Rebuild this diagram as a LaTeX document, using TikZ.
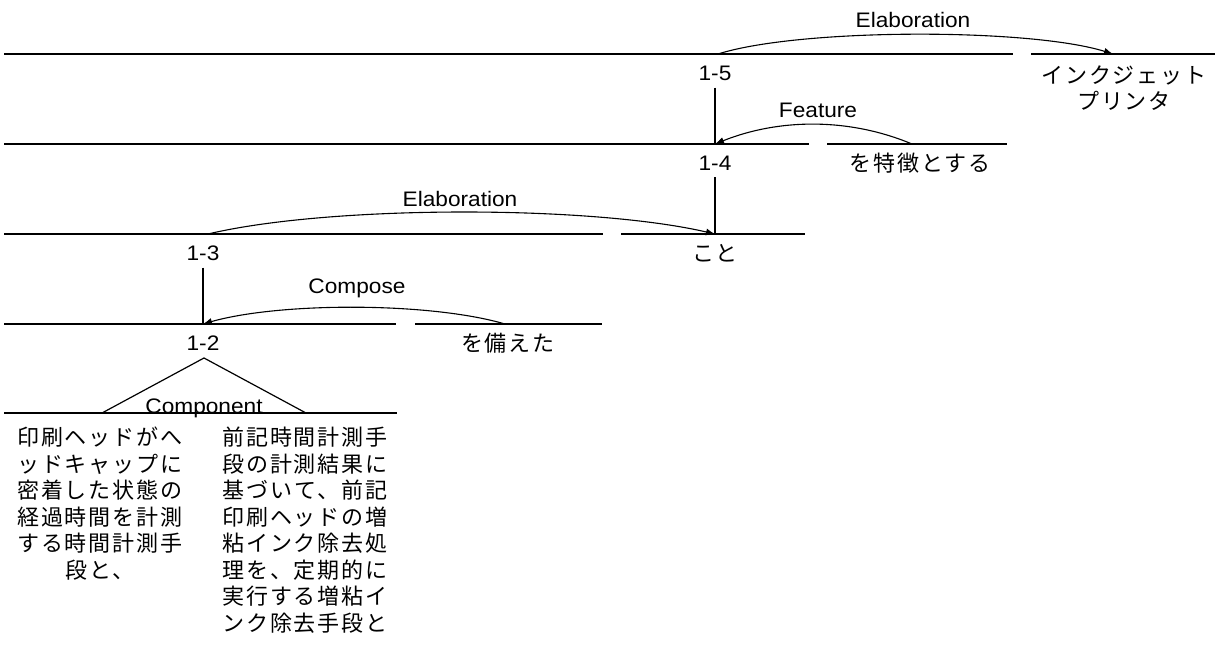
\documentclass[tikz,border=0pt]{standalone}
\usepackage{fontspec}
\setmainfont{Liberation Sans}[FakeStretch=1.08]
\newfontfamily\jp{Noto Sans CJK JP}[LetterSpace=9]
\usetikzlibrary{arrows.meta,calc}
\begin{document}
\begin{tikzpicture}[x=1pt,y=-1pt,
  lbl/.style={font=\fontsize{21}{23}\selectfont, inner sep=0pt},
  jtxt/.style={font=\jp\fontsize{22}{26.5}\selectfont, inner sep=0pt, align=center},
  hline/.style={line width=1.6pt},
  vline/.style={line width=1.2pt},
  rel/.style={line width=1.1pt, -{Latex[length=9pt,width=7pt]}}]
\useasboundingbox (0,0) rectangle (1215,655);

% horizontal lines
\coordinate (L1a) at (4,54);   \coordinate (L1b) at (1013,54);
\coordinate (L1c) at (1031,54); \coordinate (L1d) at (1215,54);
\coordinate (L2a) at (4,144);  \coordinate (L2b) at (809,144);
\coordinate (L2c) at (827,144); \coordinate (L2d) at (1007,144);
\coordinate (L3a) at (4,234);  \coordinate (L3b) at (603,234);
\coordinate (L3c) at (621,234); \coordinate (L3d) at (805,234);
\coordinate (L4a) at (4,324);  \coordinate (L4b) at (396,324);
\coordinate (L4c) at (415,324); \coordinate (L4d) at (602,324);
\coordinate (L5a) at (4,413);  \coordinate (L5b) at (397,413);
\draw[hline] (L1a) -- (L1b) (L1c) -- (L1d);
\draw[hline] (L2a) -- (L2b) (L2c) -- (L2d);
\draw[hline] (L3a) -- (L3b) (L3c) -- (L3d);
\draw[hline] (L4a) -- (L4b) (L4c) -- (L4d);
\draw[hline] (L5a) -- (L5b);

% labels
\node[lbl] (n15) at (715,73) {1-5};
\node[lbl] (n14) at (715,163) {1-4};
\node[lbl] (n13) at (203,253) {1-3};
\node[lbl] (n12) at (203,343) {1-2};
\node[jtxt] (ink) at (1124,88) {インクジェット\\プリンタ};
\node[jtxt] (toku) at (920,163) {を特徴とする};
\node[jtxt] (koto) at (715,253) {こと};
\node[jtxt] (sonae) at (508,343) {を備えた};

\node[lbl] (elab1) at (913,20) {Elaboration};
\node[lbl] (feat) at (818,110) {Feature};
\node[lbl] (elab2) at (460,199) {Elaboration};
\node[lbl] (comp) at (357,288) {Compose};
\node[lbl, anchor=base] (cmpn) at (204,413) {Component};

% anchor points on lines
\coordinate (h15) at (718,54);
\coordinate (d1) at (1113,54);
\coordinate (h14) at (715,144);
\coordinate (d2) at (912,144);
\coordinate (h14b) at (715,234);
\coordinate (h13) at (208,234);
\coordinate (h13b) at (203,324);
\coordinate (d4) at (505,324);
\coordinate (apex) at (204,358);
\coordinate (fl) at (102,413);
\coordinate (fr) at (306,413);

% verticals
\draw[vline] ($(n15.south)+(0,7)$) -- (h14);
\draw[vline] ($(n14.south)+(0,7)$) -- (h14b);
\draw[vline] ($(n13.south)+(0,7)$) -- (h13b);
\draw[vline] (fl) -- (apex) -- (fr);

% relation arcs
\draw[rel] (h15) .. controls (800,28) and (1030,28) .. (d1);
\draw[rel] (d2) .. controls (850,118) and (780,118) .. (h14);
\draw[rel] (h13) .. controls (330,205) and (590,205) .. (h14b);
\draw[rel] (d4) .. controls (430,302) and (280,302) .. (h13b);

% component texts
\node[jtxt, anchor=north] (c1) at (100,427) {印刷ヘッドがへ\\ッドキャップに\\密着した状態の\\経過時間を計測\\する時間計測手\\段と、};
\node[jtxt, anchor=north] (c2) at (305,427) {前記時間計測手\\段の計測結果に\\基づいて、前記\\印刷ヘッドの増\\粘インク除去処\\理を、定期的に\\実行する増粘イ\\ンク除去手段と};
\end{tikzpicture}
\end{document}
